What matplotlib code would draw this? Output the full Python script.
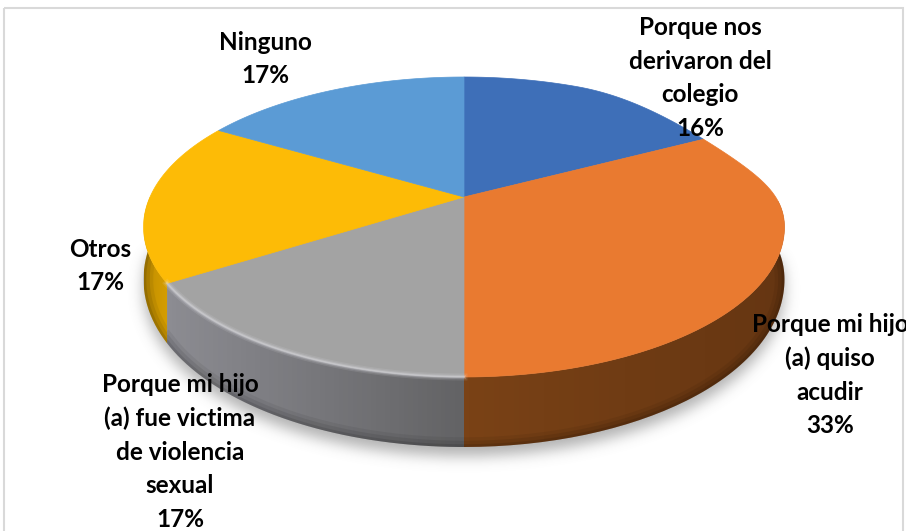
#!/usr/bin/env python3
import matplotlib
matplotlib.use('Agg')
import matplotlib.pyplot as plt
import numpy as np
from matplotlib.colors import to_rgb
from matplotlib.patches import PathPatch, Rectangle
from matplotlib.path import Path

# shares, percent_labels as printed on the chart
categories = ['Porque nos\nderivaron del\ncolegio', 'Porque mi hijo\n(a) quiso\nacudir',
              'Porque mi hijo\n(a) fue victima\nde violencia\nsexual', 'Otros', 'Ninguno']
shares = [16, 34, 16, 17.5, 16.5]
percent_labels = ['16%', '33%', '17%', '17%', '17%']
top_colors = ['#3e6fb8', '#e97a30', '#a3a3a3', '#fdbb06', '#5b9bd5']
side_colors = [('#2c4f85', '#2c4f85'), ('#663612', '#7a4216'), ('#636365', '#8c8c92'),
               ('#d69e00', '#c08e00'), ('#3f72a0', '#3f72a0')]
label_xy = [(700, 78), (830, 375), (180, 452), (100, 266), (265, 59)]

CX, CY = 464, 197
A, B, K = 314, 144, 0.2


def rim(a):
    # perspective circle, angle a in degrees clockwise from the far point
    a = np.asarray(a, dtype=float)
    t = np.radians(a)
    u, v = np.sin(t), np.cos(t)
    w = 1 + K * v
    x = CX + A * u / w
    y = CY - B * v / w
    # upper right of the disc sits a bit lower than a true ellipse
    s = np.clip((a - 25) / 80, 0, 1)
    y = y + 13 * np.sin(np.pi * s) ** 2
    return x, y


def depth(a):
    v = np.cos(np.radians(a))
    return np.where(v < 0, 48 + 22 * -v, 48)


def draw_side(ax, a0, a1, c0, c1):
    a = np.linspace(a0, a1, 80)
    x, y = rim(a)
    d = depth(a)
    px = np.r_[x, x[::-1]]
    py = np.r_[y, (y + d)[::-1]]
    patch = PathPatch(Path(np.c_[px, py]), fc='none', ec='none')
    ax.add_patch(patch)
    t = np.linspace(0, 1, 64)[None, :, None]
    img = (1 - t) * np.array(to_rgb(c0))[None, None, :] + t * np.array(to_rgb(c1))[None, None, :]
    left, right = px.min(), px.max()
    if x[0] > x[-1]:
        left, right = right, left
    im = ax.imshow(img, extent=(left, right, py.max(), py.min()), aspect='auto', zorder=2)
    im.set_clip_path(patch)
    # darker toward the bottom edge of the wall
    for lw, alpha in [(14, 0.06), (9, 0.08), (4, 0.1)]:
        line, = ax.plot(x, y + d, color='black', lw=lw, alpha=alpha, zorder=2.5)
        line.set_clip_path(patch)


def draw_shadow(ax):
    a = np.linspace(90, 270, 200)
    x, y = rim(a)
    d = depth(a)
    outline = np.r_[np.c_[x, y + d + 9], [[CX, CY]]]
    gx, gy = np.meshgrid(np.arange(906), np.arange(531))
    pts = np.c_[gx.ravel() + 0.5, gy.ravel() + 0.5]
    mask = Path(outline).contains_points(pts).reshape(gy.shape).astype(float)
    g = np.exp(-0.5 * (np.arange(-20, 21) / 7.0) ** 2)
    g /= g.sum()
    mask = np.apply_along_axis(lambda r: np.convolve(r, g, mode='same'), 0, mask)
    mask = np.apply_along_axis(lambda r: np.convolve(r, g, mode='same'), 1, mask)
    rgba = np.zeros(mask.shape + (4,))
    rgba[..., :3] = 0.45
    rgba[..., 3] = mask * 0.55
    ax.imshow(rgba, extent=(0, 906, 531, 0), aspect='auto', zorder=1)


def main():
    plt.rcParams['font.family'] = ['Lato', 'DejaVu Sans']
    fig = plt.figure(figsize=(9.06, 5.31), dpi=100)
    ax = fig.add_axes([0, 0, 1, 1])
    draw_shadow(ax)
    edges = np.r_[0, np.cumsum(shares)] * 360 / np.sum(shares)

    for i in range(len(shares)):
        a0, a1 = edges[i], edges[i + 1]
        lo, hi = max(a0, 90), min(a1, 270)
        if lo < hi:
            draw_side(ax, lo, hi, *side_colors[i])

    for i in range(len(shares)):
        a = np.linspace(edges[i], edges[i + 1], 80)
        x, y = rim(a)
        ax.fill(np.r_[CX, x], np.r_[CY, y], fc=top_colors[i], ec=top_colors[i],
                lw=0.5, zorder=3)

    # soft light rim along the near edge of the gray slice
    a = np.linspace(edges[2], edges[3], 80)
    x, y = rim(a)
    for lw, alpha in [(5, 0.12), (3, 0.2), (1.5, 0.35)]:
        ax.plot(x, y, color='#e4e4ea', lw=lw, alpha=alpha, zorder=4)

    for name, pct, (lx, ly) in zip(categories, percent_labels, label_xy):
        ax.text(lx, ly, name + '\n' + pct, ha='center', va='center', fontsize=17.5,
                fontweight='bold', color='#000000', linespacing=1.55, zorder=6)

    ax.add_patch(Rectangle((3.5, 7.5), 899, 530, fc='none', ec='#d9d9d9', lw=1.5, zorder=5))
    ax.set_xlim(0, 906)
    ax.set_ylim(531, 0)
    ax.axis('off')
    fig.savefig('out.png', dpi=100, facecolor='white')


if __name__ == '__main__':
    main()
